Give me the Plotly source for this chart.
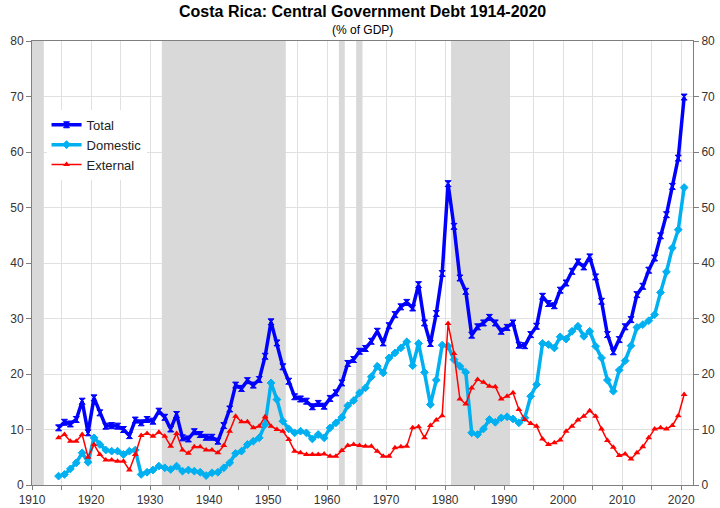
import plotly.graph_objects as go

years = list(range(1914, 2021))

total = [
    10.3, 11.3, 11.0, 11.8, 15.1, 9.4, 15.7, 13.0, 10.6, 10.7,   # 1914-1923
    10.6, 10.0, 8.9, 11.7, 11.2, 11.8, 11.5, 13.3, 12.2, 10.1,   # 1924-1933
    12.7, 8.5, 8.3, 9.6, 9.1, 8.6, 8.6, 7.9, 10.7, 13.7,         # 1934-1943
    18.0, 17.4, 18.8, 18.0, 19.0, 23.2, 29.4, 25.6, 21.3, 18.7,  # 1944-1953
    15.9, 15.5, 15.1, 14.1, 14.7, 14.2, 15.6, 16.6, 18.4, 21.9,  # 1954-1963
    22.6, 24.1, 24.6, 25.9, 27.7, 25.6, 28.7, 30.7, 32.1, 32.9,  # 1964-1973
    31.9, 36.1, 29.2, 25.5, 30.9, 38.1, 54.3, 46.6, 37.3, 34.9,  # 1974-1983
    27.0, 28.5, 29.2, 30.2, 29.2, 27.7, 28.4, 29.2, 25.2, 25.1,  # 1984-1993
    27.1, 28.6, 34.0, 32.7, 32.3, 35.1, 36.4, 38.5, 40.2, 39.3,  # 1994-2003
    41.1, 37.5, 33.1, 27.1, 24.0, 26.2, 28.5, 29.8, 34.3, 35.8,  # 2004-2013
    38.7, 40.9, 44.9, 48.7, 53.8, 58.9, 69.9,                    # 2014-2020
]

domestic = [
    1.6, 1.9, 2.9, 4.0, 5.8, 4.1, 8.5, 7.3, 6.3, 6.1,
    6.1, 5.5, 6.1, 6.3, 1.9, 2.3, 2.7, 3.4, 3.1, 2.8,
    3.4, 2.5, 2.7, 2.5, 2.3, 1.7, 2.2, 2.3, 3.1, 4.0,
    5.7, 6.1, 7.3, 7.9, 8.5, 10.9, 18.4, 15.4, 11.5, 10.1,
    9.4, 9.7, 9.4, 8.3, 9.1, 8.5, 10.3, 11.2, 12.2, 14.3,
    15.2, 16.6, 17.5, 19.5, 21.4, 20.2, 22.9, 23.8, 24.7, 25.8,
    21.5, 25.5, 20.3, 14.5, 18.9, 25.2, 25.0, 22.6, 21.4, 20.3,
    9.4, 9.1, 10.1, 11.8, 11.3, 12.1, 12.3, 11.9, 11.2, 12.1,
    16.0, 18.1, 25.5, 25.3, 24.7, 26.7, 26.3, 27.7, 28.6, 26.8,
    27.7, 25.0, 22.9, 18.9, 16.9, 20.7, 22.4, 25.1, 28.4, 28.9,
    29.6, 30.7, 34.7, 38.4, 42.7, 46.0, 53.6,
]

external = [
    8.5, 9.1, 7.9, 7.9, 9.1, 5.0, 7.3, 5.5, 4.5, 4.5,
    4.3, 4.3, 2.7, 5.5, 8.9, 9.3, 8.8, 9.5, 8.8, 7.0,
    9.3, 6.3, 5.7, 6.9, 6.9, 6.3, 6.3, 5.8, 7.1, 9.7,
    12.4, 11.4, 11.4, 10.3, 10.6, 12.3, 10.6, 10.0, 9.7, 8.2,
    6.1, 5.8, 5.5, 5.5, 5.5, 5.6, 5.2, 5.2, 6.2, 7.1,
    7.3, 7.1, 7.0, 7.0, 6.1, 5.2, 5.2, 6.7, 6.9, 7.0,
    10.3, 10.5, 8.5, 10.7, 11.7, 12.5, 29.1, 23.7, 15.5, 14.6,
    17.5, 19.0, 18.5, 17.8, 17.7, 15.5, 16.0, 16.6, 13.6, 11.8,
    11.1, 10.6, 8.3, 7.3, 7.6, 8.1, 9.7, 10.6, 11.7, 12.4,
    13.4, 12.4, 10.1, 8.0, 6.8, 5.3, 5.6, 4.7, 5.8, 6.9,
    8.5, 10.1, 10.3, 10.1, 10.7, 12.5, 16.3,
]

# shaded periods (start, end) in years
shaded = [(1910, 1912), (1932, 1953), (1962, 1963), (1965, 1966), (1981, 1991)]

year_ticks = list(range(1910, 2025, 5))
tick_labels = [str(y) if y % 10 == 0 else "" for y in year_ticks]
y_ticks = list(range(0, 90, 10))

# points are plotted at mid-year
xpos = [y + 0.5 for y in years]

FONT = "Liberation Sans, Arial, sans-serif"
W, H = 720, 508
ML, MR, MT, MB = 32, 27, 41, 23

fig = go.Figure()
fig.add_trace(go.Scatter(
    x=xpos, y=total, name="Total", mode="lines+markers",
    line=dict(color="#0000FF", width=3.5),
    marker=dict(symbol="hourglass", size=6, color="#0000FF",
                line=dict(color="#0000FF", width=1)),
))
fig.add_trace(go.Scatter(
    x=xpos, y=domestic, name="Domestic", mode="lines+markers",
    line=dict(color="#00B0F0", width=3.5),
    marker=dict(symbol="diamond", size=6, color="#00B0F0",
                line=dict(color="#00B0F0", width=1)),
))
fig.add_trace(go.Scatter(
    x=xpos, y=external, name="External", mode="lines+markers",
    line=dict(color="#FF0000", width=1.5),
    marker=dict(symbol="triangle-up", size=6, color="#FF0000"),
))
# invisible trace to carry the right-hand axis
fig.add_trace(go.Scatter(x=[1910], y=[0], yaxis="y2", mode="markers",
                         marker=dict(opacity=0), showlegend=False,
                         hoverinfo="skip"))

for a, b in shaded:
    fig.add_shape(type="rect", xref="x", yref="y", x0=a, x1=b, y0=0, y1=80,
                  fillcolor="#D9D9D9", line=dict(width=0), layer="between")

plot_h = H - MT - MB

fig.update_layout(
    width=W, height=H,
    autosize=False,
    margin=dict(l=ML, r=MR, t=MT, b=MB, autoexpand=False),
    paper_bgcolor="white", plot_bgcolor="white",
    font=dict(family=FONT, size=12, color="#333333"),
    showlegend=True,
    legend=dict(x=0.022, y=0.845, xanchor="left", yanchor="top",
                bgcolor="white", font=dict(size=13, color="#222222"),
                tracegroupgap=0, itemwidth=30),
    xaxis=dict(range=[1910, 2022], tickmode="array", tickvals=year_ticks,
               ticktext=tick_labels, showgrid=True, gridcolor="#E0E0E0",
               gridwidth=1, zeroline=False, showline=True, linecolor="#7F7F7F",
               linewidth=1, mirror=True, ticks="outside", ticklen=4,
               tickcolor="#7F7F7F", tickfont=dict(size=12), automargin=False),
    yaxis=dict(range=[0, 80], tickmode="array", tickvals=y_ticks,
               showgrid=True, gridcolor="#E0E0E0", gridwidth=1, zeroline=False,
               showline=True, linecolor="#7F7F7F", linewidth=1,
               ticks="outside", ticklen=5, tickcolor="#7F7F7F",
               tickfont=dict(size=12), automargin=False),
    yaxis2=dict(range=[0, 80], tickmode="array", tickvals=y_ticks,
                overlaying="y", side="right", showgrid=False, zeroline=False,
                showline=True, linecolor="#7F7F7F", linewidth=1,
                ticks="outside", ticklen=5, tickcolor="#7F7F7F",
                tickfont=dict(size=12), automargin=False),
    annotations=[
        dict(text="<b>Costa Rica: Central Government Debt 1914-2020</b>",
             x=0.5, y=(H - MB - 12) / plot_h, xref="paper", yref="paper",
             yanchor="middle", showarrow=False,
             font=dict(size=16, color="#000000", family=FONT)),
        dict(text="(% of GDP)", x=0.5, y=(H - MB - 30) / plot_h,
             xref="paper", yref="paper", yanchor="middle", showarrow=False,
             font=dict(size=12, color="#000000", family=FONT)),
    ],
)

fig.write_html("out.html", config={"displayModeBar": False},
               post_script="document.body.style.margin='0';")
